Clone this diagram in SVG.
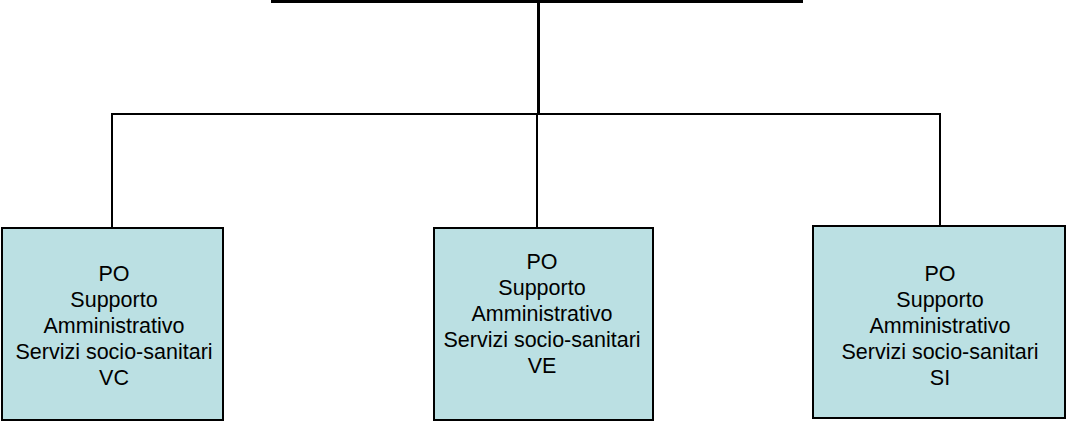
<svg xmlns="http://www.w3.org/2000/svg" width="1067" height="422" viewBox="0 0 1067 422">
<style>
.box{fill:#BBE0E3;stroke:#000;stroke-width:2}
.ln{stroke:#000;fill:none}
text{font-family:"Liberation Sans",Arial,sans-serif;font-size:21.5px;fill:#000;text-anchor:middle}
</style>
<rect width="1067" height="422" fill="#fff"/>
<g id="connectors">
<line class="ln" x1="271" y1="1.5" x2="803" y2="1.5" stroke-width="3"/>
<line class="ln" x1="538.5" y1="0" x2="538.5" y2="114" stroke-width="3"/>
<polyline class="ln" points="112,228 112,114 940,114 940,226" stroke-width="2"/>
<line class="ln" x1="537" y1="114" x2="537" y2="228" stroke-width="2"/>
</g>
<g id="node-vc">
<rect class="box" x="2" y="228" width="221" height="192"/>
<text x="114" y="281">PO</text>
<text x="114" y="307">Supporto</text>
<text x="114" y="333">Amministrativo</text>
<text x="114" y="359">Servizi socio-sanitari</text>
<text x="114" y="385">VC</text>
</g>
<g id="node-ve">
<rect class="box" x="434" y="228" width="219" height="192"/>
<text x="542" y="269">PO</text>
<text x="542" y="295">Supporto</text>
<text x="542" y="321">Amministrativo</text>
<text x="542" y="347">Servizi socio-sanitari</text>
<text x="542" y="373">VE</text>
</g>
<g id="node-si">
<rect class="box" x="813" y="226" width="252" height="192"/>
<text x="940" y="281">PO</text>
<text x="940" y="307">Supporto</text>
<text x="940" y="333">Amministrativo</text>
<text x="940" y="359">Servizi socio-sanitari</text>
<text x="940" y="385">SI</text>
</g>
</svg>
